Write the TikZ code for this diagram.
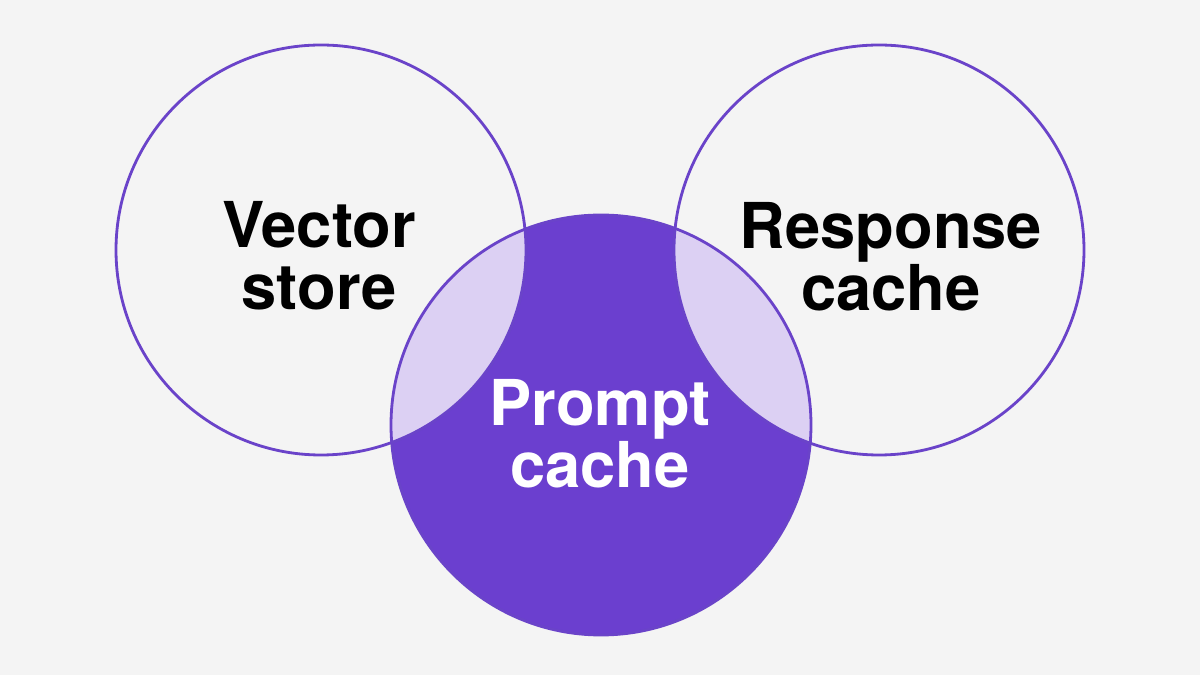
\documentclass[tikz,border=0pt]{standalone}
\usepackage{fontspec}
\setmainfont{TeX Gyre Heros}
\definecolor{bgcol}{HTML}{F4F4F4}
\definecolor{vpurple}{HTML}{6B3FCF}
\definecolor{vline}{HTML}{6A43C9}
\definecolor{vlilac}{HTML}{DCD0F3}
\begin{document}
\begin{tikzpicture}[line join=round, line cap=round]
	\def\rs{2.05} \def\rp{2.10}
	\tikzset{every node/.style={align=center, font=\bfseries\fontsize{18}{17.6}\selectfont},
		ring/.style={draw=vline, line width=0.8pt}}
	% background
	\fill[bgcol] (0,0) rectangle (12,6.75);
	%\draw[color=gray!50,dashed] (0,0) grid (12,6.75);
	\coordinate (vs) at (3.21,4.25);
	\coordinate (rc) at (8.79,4.25);
	\coordinate (pc) at (6.01,2.50);
	% prompt cache disc
	\fill[vpurple] (pc) circle (\rp);
	% overlaps
	\begin{scope}
		\clip (vs) circle (\rs);
		\fill[vlilac] (pc) circle (\rp);
	\end{scope}
	\begin{scope}
		\clip (rc) circle (\rs);
		\fill[vlilac] (pc) circle (\rp);
	\end{scope}
	\draw[ring] (vs) circle (\rs);
	\draw[ring] (rc) circle (\rs);
	\draw[ring] (pc) circle (\rp);
	\node (vstext) at (3.19,4.19) {Vector\\store};
	\node (rctext) at (8.91,4.185) {Response\\cache};
	\node[text=white] (pctext) at (6.00,2.415) {Prompt\\cache};
\end{tikzpicture}
\end{document}
